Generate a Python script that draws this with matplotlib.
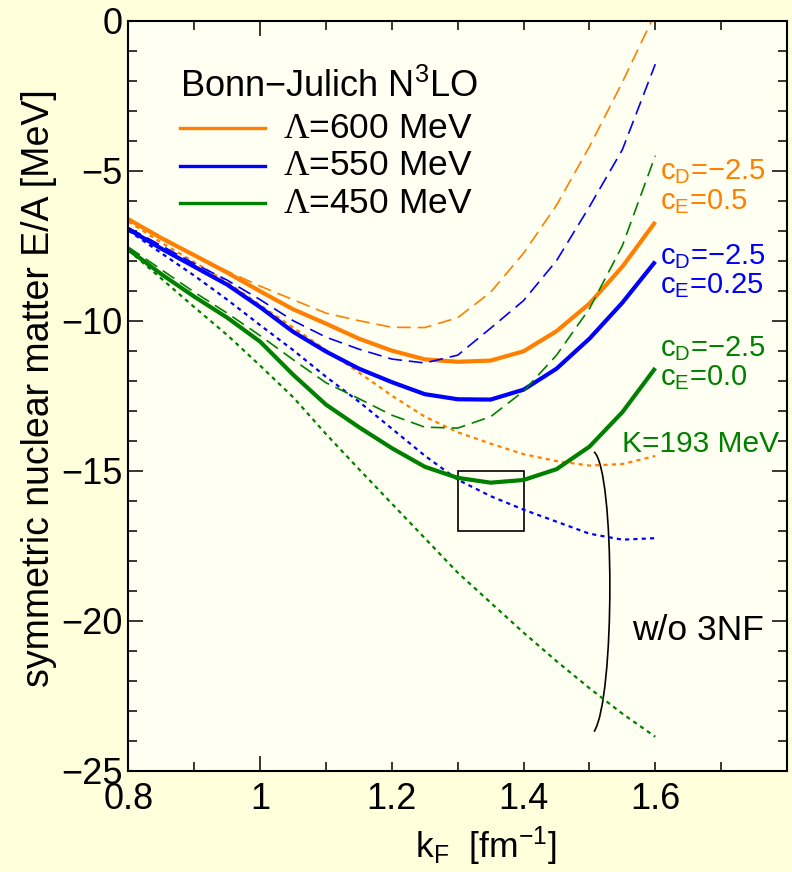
import numpy as np
import matplotlib
matplotlib.use("Agg")
import matplotlib.pyplot as plt
from matplotlib.path import Path
from matplotlib.patches import PathPatch, Rectangle

plt.rcParams['font.family'] = ['Liberation Sans', 'DejaVu Sans']
plt.rcParams['mathtext.fontset'] = 'custom'
plt.rcParams['mathtext.rm'] = 'Liberation Sans'
plt.rcParams['mathtext.it'] = 'Liberation Sans:italic'
plt.rcParams['mathtext.cal'] = 'Liberation Serif'
plt.rcParams['lines.scale_dashes'] = False

# k_F grid [fm^-1]
kf = [0.80, 0.85, 0.90, 0.95, 1.00, 1.05, 1.10, 1.15, 1.20, 1.25, 1.30, 1.35, 1.40, 1.45, 1.50, 1.55, 1.60]

# with 3NF (solid)
e600 = [-6.62, -7.25, -7.82, -8.40, -9.02, -9.62, -10.10, -10.60, -11.00, -11.29, -11.37, -11.33, -11.02, -10.35, -9.43, -8.20, -6.71]
e550 = [-6.95, -7.60, -8.20, -8.80, -9.55, -10.37, -11.03, -11.60, -12.05, -12.45, -12.62, -12.63, -12.30, -11.60, -10.60, -9.40, -8.03]
e450 = [-7.63, -8.45, -9.20, -9.90, -10.70, -11.80, -12.80, -13.55, -14.25, -14.87, -15.24, -15.40, -15.31, -14.95, -14.20, -13.05, -11.58]

# c_D = -2.5 variants (dashed)
d600 = [-6.60, -7.20, -7.80, -8.35, -8.85, -9.30, -9.75, -10.00, -10.22, -10.23, -9.90, -9.05, -7.75, -6.15, -4.20, -2.05, 0.25]
d550 = [-6.90, -7.50, -8.10, -8.65, -9.30, -10.00, -10.55, -10.95, -11.28, -11.41, -11.15, -10.25, -9.33, -8.00, -6.20, -4.30, -1.45]
d450 = [-7.55, -8.30, -9.05, -9.75, -10.50, -11.30, -12.07, -12.60, -13.15, -13.55, -13.58, -13.20, -12.35, -11.15, -9.60, -7.50, -4.50]

# without 3NF (dotted)
n600 = [-6.70, -7.40, -8.05, -8.72, -9.48, -10.23, -10.98, -11.73, -12.50, -13.20, -13.72, -14.10, -14.45, -14.68, -14.83, -14.78, -14.51]
n550 = [-7.00, -7.75, -8.50, -9.30, -10.15, -10.98, -11.87, -12.70, -13.60, -14.50, -15.30, -15.85, -16.30, -16.70, -17.10, -17.30, -17.25]
n450 = [-7.65, -8.60, -9.55, -10.48, -11.50, -12.55, -13.78, -14.95, -16.10, -17.25, -18.40, -19.40, -20.40, -21.35, -22.25, -23.10, -23.87]

labels = [r'$\mathcal{\Lambda}$=600 MeV', r'$\mathcal{\Lambda}$=550 MeV', r'$\mathcal{\Lambda}$=450 MeV']
colors = ['#ff8000', '#0000ff', '#008000']
cd_text = [('c$_\\mathrm{D}$=\u22122.5', 'c$_\\mathrm{E}$=0.5', -5.30, -6.28),
           ('c$_\\mathrm{D}$=\u22122.5', 'c$_\\mathrm{E}$=0.25', -8.12, -9.10),
           ('c$_\\mathrm{D}$=\u22122.5', 'c$_\\mathrm{E}$=0.0', -11.18, -12.16)]

# bracket for "w/o 3NF" and zoom box
brace_x = [1.507, 1.539, 1.539, 1.507]
brace_y = [-14.37, -15.0, -22.6, -23.70]
box = (1.3, -17.0, 0.1, 2.0)

fig = plt.figure(figsize=(7.92, 8.72), dpi=100, facecolor='#ffffdc')
ax = fig.add_axes([0.1622, 0.1162, 0.8315, 0.8601])
ax.set_facecolor('#fffff2')

for sol, das, dot, c in zip([e600, e550, e450], [d600, d550, d450], [n600, n550, n450], colors):
    ax.plot(kf, das, color=c, lw=1.2, dashes=(10, 5), dash_joinstyle='round')
    ax.plot(kf, dot, color=c, lw=1.6, dashes=(3, 3), dash_joinstyle='round')
    ax.plot(kf, sol, color=c, lw=3.0, solid_capstyle='butt', solid_joinstyle='round')

# cD / cE annotations
for (t1, t2, y1, y2), c in zip(cd_text, colors):
    ax.text(1.607, y1, t1, color=c, fontsize=21, va='baseline')
    ax.text(1.607, y2, t2, color=c, fontsize=21, va='baseline')
ax.text(1.55, -14.38, 'K=193 MeV', color=colors[2], fontsize=21.5, va='baseline')
ax.text(1.565, -20.64, 'w/o 3NF', color='black', fontsize=25.5, va='baseline')

verts = list(zip(brace_x, brace_y))
ax.add_patch(PathPatch(Path(verts, [Path.MOVETO, Path.CURVE4, Path.CURVE4, Path.CURVE4]),
                       fill=False, lw=1.2, color='black'))
ax.add_patch(Rectangle(box[:2], box[2], box[3], fill=False, lw=1.2, ec='black'))

# legend drawn by hand
ax.text(0.078, 0.898, 'Bonn\u2212Julich N$^\\mathrm{3}$LO', transform=ax.transAxes,
        fontsize=26, va='baseline')
rows = [0.8565, 0.8063, 0.7565]
for lab, c, yy in zip(labels, colors, rows):
    ax.plot([0.078, 0.207], [yy, yy], color=c, lw=2.4, transform=ax.transAxes)
    ax.text(0.2346, yy, lab, transform=ax.transAxes, fontsize=25.5, va='center')

ax.set_xlim(0.8, 1.8)
ax.set_ylim(-25, 0)
ax.set_xticks([0.8, 1.0, 1.2, 1.4, 1.6])
ax.set_xticklabels(['0.8', '1', '1.2', '1.4', '1.6'])
ax.set_xticks([0.9, 1.1, 1.3, 1.5, 1.7], minor=True)
ax.set_yticks([0, -5, -10, -15, -20, -25])
ax.set_yticklabels(['0', '\u22125', '\u221210', '\u221215', '\u221220', '\u221225'])
ax.set_yticks(np.arange(-24, 0, 1), minor=True)

ax.tick_params(which='both', direction='in', top=True, right=True, width=1.1, labelsize=26)
ax.tick_params(axis='x', which='both', length=6.5, pad=8)
ax.tick_params(axis='y', which='major', length=10.5, pad=4)
ax.tick_params(axis='y', which='minor', length=6.5)
for t in ax.xaxis.get_major_ticks():
    if abs(t.get_loc() - 1.0) < 1e-6:
        t.tick1line.set_markersize(10.5)
        t.tick2line.set_markersize(10.5)
for s in ax.spines.values():
    s.set_linewidth(1.5)

ax.set_ylabel('symmetric nuclear matter E/A [MeV]', fontsize=27)
ax.yaxis.set_label_coords(-0.108, 0.51)
ax.set_xlabel('k$_\\mathrm{F}$  [fm$^{-1}$]', fontsize=25.5)
ax.xaxis.set_label_coords(0.543, -0.072)

fig.savefig('out.png', dpi=100, facecolor=fig.get_facecolor())
